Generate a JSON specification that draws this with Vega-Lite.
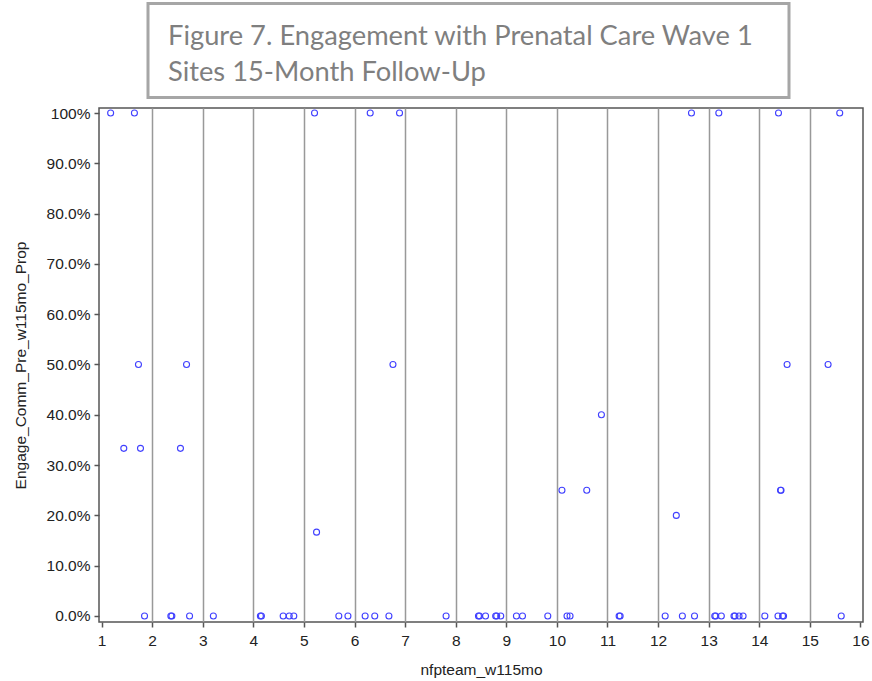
{
  "$schema": "https://vega.github.io/schema/vega-lite/v6.json",
  "padding": {"left": 12, "top": 1.5, "right": 0, "bottom": 0},
  "background": "white",
  "spacing": 5.5,
  "config": {"font": "Liberation Sans"},
  "vconcat": [
    {
      "spacing": 0,
      "hconcat": [
        {
          "width": 47,
          "height": 10,
          "view": {"stroke": null},
          "data": {"values": []},
          "mark": "point",
          "encoding": {}
        },
        {
          "width": 641,
          "height": 94,
          "view": {"stroke": "#a6a6a6", "strokeWidth": 3, "fill": "white"},
          "data": {"values": []},
          "mark": "point",
          "encoding": {},
          "title": {
            "text": ["Figure 7. Engagement with Prenatal Care Wave 1", "Sites 15-Month Follow-Up"],
            "anchor": "start",
            "frame": "group",
            "offset": -105,
            "dx": 20,
            "font": "Lato",
            "fontSize": 27.3,
            "fontWeight": "normal",
            "color": "#7f7f7f",
            "lineHeight": 36.5,
            "baseline": "alphabetic"
          }
        }
      ]
    },
    {
      "width": 764,
      "height": 514,
      "view": {"stroke": "#555555", "strokeWidth": 1.5},
      "data": {
        "values": [
          {"nfpteam_w115mo": 1.18, "prop": 1},
          {"nfpteam_w115mo": 1.65, "prop": 1},
          {"nfpteam_w115mo": 5.21, "prop": 1},
          {"nfpteam_w115mo": 6.31, "prop": 1},
          {"nfpteam_w115mo": 6.89, "prop": 1},
          {"nfpteam_w115mo": 12.66, "prop": 1},
          {"nfpteam_w115mo": 13.2, "prop": 1},
          {"nfpteam_w115mo": 14.38, "prop": 1},
          {"nfpteam_w115mo": 15.59, "prop": 1},
          {"nfpteam_w115mo": 1.73, "prop": 0.5},
          {"nfpteam_w115mo": 2.68, "prop": 0.5},
          {"nfpteam_w115mo": 6.76, "prop": 0.5},
          {"nfpteam_w115mo": 14.55, "prop": 0.5},
          {"nfpteam_w115mo": 15.36, "prop": 0.5},
          {"nfpteam_w115mo": 1.44, "prop": 0.3333},
          {"nfpteam_w115mo": 1.77, "prop": 0.3333},
          {"nfpteam_w115mo": 2.56, "prop": 0.3333},
          {"nfpteam_w115mo": 10.88, "prop": 0.4},
          {"nfpteam_w115mo": 10.1, "prop": 0.25},
          {"nfpteam_w115mo": 10.59, "prop": 0.25},
          {"nfpteam_w115mo": 14.42, "prop": 0.25},
          {"nfpteam_w115mo": 14.43, "prop": 0.25},
          {"nfpteam_w115mo": 12.36, "prop": 0.2},
          {"nfpteam_w115mo": 5.25, "prop": 0.1667},
          {"nfpteam_w115mo": 1.85, "prop": 0},
          {"nfpteam_w115mo": 2.37, "prop": 0},
          {"nfpteam_w115mo": 2.39, "prop": 0},
          {"nfpteam_w115mo": 2.74, "prop": 0},
          {"nfpteam_w115mo": 3.21, "prop": 0},
          {"nfpteam_w115mo": 4.14, "prop": 0},
          {"nfpteam_w115mo": 4.16, "prop": 0},
          {"nfpteam_w115mo": 4.59, "prop": 0},
          {"nfpteam_w115mo": 4.71, "prop": 0},
          {"nfpteam_w115mo": 4.8, "prop": 0},
          {"nfpteam_w115mo": 5.69, "prop": 0},
          {"nfpteam_w115mo": 5.87, "prop": 0},
          {"nfpteam_w115mo": 6.21, "prop": 0},
          {"nfpteam_w115mo": 6.4, "prop": 0},
          {"nfpteam_w115mo": 6.68, "prop": 0},
          {"nfpteam_w115mo": 7.81, "prop": 0},
          {"nfpteam_w115mo": 8.45, "prop": 0},
          {"nfpteam_w115mo": 8.47, "prop": 0},
          {"nfpteam_w115mo": 8.59, "prop": 0},
          {"nfpteam_w115mo": 8.79, "prop": 0},
          {"nfpteam_w115mo": 8.81, "prop": 0},
          {"nfpteam_w115mo": 8.89, "prop": 0},
          {"nfpteam_w115mo": 9.2, "prop": 0},
          {"nfpteam_w115mo": 9.32, "prop": 0},
          {"nfpteam_w115mo": 9.82, "prop": 0},
          {"nfpteam_w115mo": 10.2, "prop": 0},
          {"nfpteam_w115mo": 10.26, "prop": 0},
          {"nfpteam_w115mo": 11.23, "prop": 0},
          {"nfpteam_w115mo": 11.25, "prop": 0},
          {"nfpteam_w115mo": 12.14, "prop": 0},
          {"nfpteam_w115mo": 12.48, "prop": 0},
          {"nfpteam_w115mo": 12.72, "prop": 0},
          {"nfpteam_w115mo": 13.12, "prop": 0},
          {"nfpteam_w115mo": 13.14, "prop": 0},
          {"nfpteam_w115mo": 13.25, "prop": 0},
          {"nfpteam_w115mo": 13.5, "prop": 0},
          {"nfpteam_w115mo": 13.52, "prop": 0},
          {"nfpteam_w115mo": 13.6, "prop": 0},
          {"nfpteam_w115mo": 13.68, "prop": 0},
          {"nfpteam_w115mo": 14.11, "prop": 0},
          {"nfpteam_w115mo": 14.37, "prop": 0},
          {"nfpteam_w115mo": 14.46, "prop": 0},
          {"nfpteam_w115mo": 14.48, "prop": 0},
          {"nfpteam_w115mo": 15.62, "prop": 0}
        ]
      },
      "mark": {"type": "point", "shape": "circle", "filled": false, "color": "#4040ff", "size": 36, "strokeWidth": 1.1, "opacity": 1},
      "encoding": {
        "x": {
          "field": "nfpteam_w115mo",
          "type": "quantitative",
          "scale": {"domain": [0.95, 16.05], "nice": false, "zero": false},
          "axis": {
            "title": "nfpteam_w115mo",
            "values": [1, 2, 3, 4, 5, 6, 7, 8, 9, 10, 11, 12, 13, 14, 15, 16],
            "format": "d",
            "domain": false,
            "ticks": true,
            "tickColor": "#555555",
            "tickSize": 5,
            "tickWidth": 1.5,
            "labelFontSize": 15.5,
            "labelColor": "#222222",
            "labelPadding": 6.5,
            "labelFlush": false,
            "labelOverlap": false,
            "grid": true,
            "gridColor": "#999999",
            "gridWidth": 1.5,
            "gridOpacity": {"condition": {"test": "datum.value <= 1 || datum.value >= 16", "value": 0}, "value": 1},
            "titleFontSize": 15.5,
            "titleFontWeight": "normal",
            "titleColor": "#222222",
            "titlePadding": 13
          }
        },
        "y": {
          "field": "prop",
          "type": "quantitative",
          "scale": {"domain": [-0.012, 1.01], "nice": false, "zero": false},
          "axis": {
            "title": "Engage_Comm_Pre_w115mo_Prop",
            "values": [0, 0.1, 0.2, 0.3, 0.4, 0.5, 0.6, 0.7, 0.8, 0.9, 1],
            "labelExpr": "datum.value >= 0.999 ? '100%' : format(datum.value, '.1%')",
            "domain": false,
            "grid": false,
            "tickColor": "#555555",
            "tickSize": 5,
            "tickWidth": 1.5,
            "labelFontSize": 15.5,
            "labelColor": "#222222",
            "labelPadding": 4,
            "labelOverlap": false,
            "titleFontSize": 15.5,
            "titleFontWeight": "normal",
            "titleColor": "#222222",
            "titlePadding": 18
          }
        }
      }
    }
  ]
}
